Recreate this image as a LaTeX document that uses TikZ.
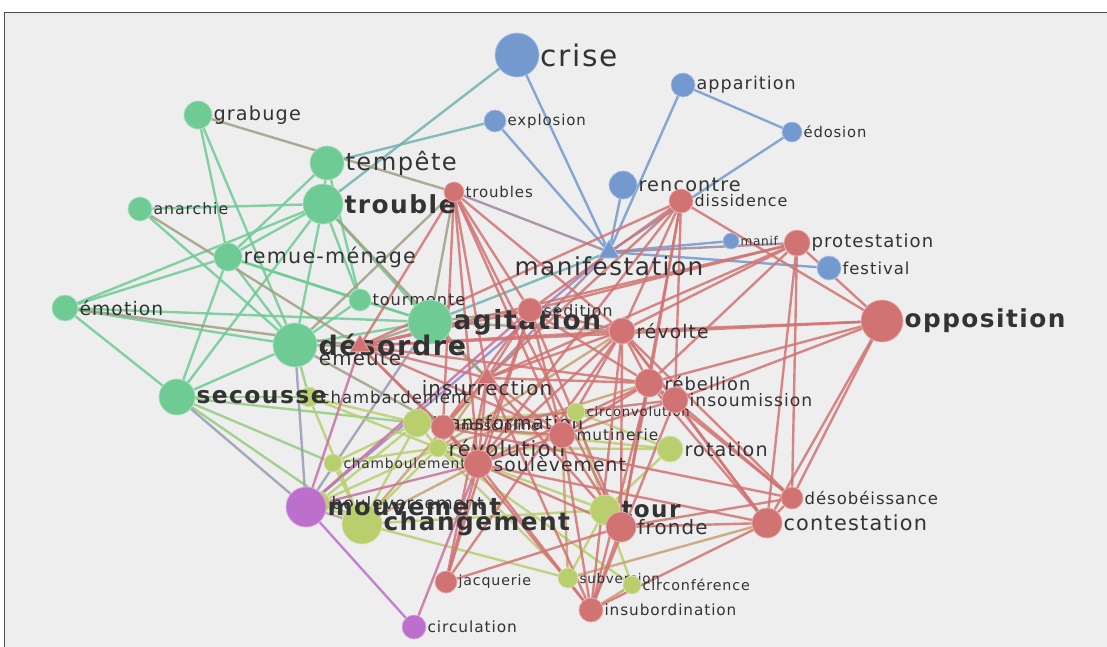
\documentclass[tikz,border=0pt]{standalone}
\usepackage{fontspec}
\usetikzlibrary{shapes.geometric}
\newfontfamily\lbl[LetterSpace=6]{DejaVu Sans}
\definecolor{cb}{HTML}{7399CF}
\definecolor{cr}{HTML}{D27373}
\definecolor{cg}{HTML}{6FCB94}
\definecolor{cy}{HTML}{B9CF6E}
\definecolor{cp}{HTML}{BC70CC}
\definecolor{panel}{HTML}{EEEEEE}
\definecolor{txt}{HTML}{333333}
\pgfdeclarelayer{bg}
\pgfsetlayers{bg,main}
\newcommand\fsz[1]{\pgfmathsetmacro\tmpfs{#1*1.1}\fontsize{\tmpfs}{\tmpfs}\selectfont}
\tikzset{
  nd/.style={circle,inner sep=0pt,fill=#1,draw=#1!60!white,line width=0.7pt},
  tri/.style={regular polygon,regular polygon sides=3,inner sep=0pt,fill=#1,draw=#1!60!white,line width=0.7pt},
  lb/.style={text=txt,inner sep=1pt},
  ed/.style 2 args={draw=#1!50!#2,line width=2.4pt,draw opacity=0.85},
  frame/.style={fill=panel,draw=black!70,line width=1pt}
}
\newcommand\N[7]{\node[nd=#4,minimum size=2*#5,label={[lb,font=\lbl\fsz{#6}]0:#7}] (#1) at (#2,#3) {};}
\newcommand\NB[7]{\node[nd=#4,minimum size=2*#5,label={[lb,font=\lbl\bfseries\fsz{#6}]0:#7}] (#1) at (#2,#3) {};}
\begin{document}
\begin{tikzpicture}[x=1pt,y=-1pt]
\useasboundingbox (0,0) rectangle (1107,646);
\clip (0,0) rectangle (1107,646);
% hidden / background nodes first
\N{boul}{318}{503}{cy}{12}{15.5}{bouleversement}
\N{revl}{438}{448}{cy}{9}{19}{révolution}
\N{chamb}{309}{397}{cy}{10}{15}{chambardement}
\N{trans}{417}{423}{cy}{14}{16.7}{transformation}
\N{circv}{576}{412}{cy}{9}{12}{circonvolution}
\N{rota}{670}{449}{cy}{13}{17.4}{rotation}
\N{chbl}{333}{463}{cy}{9}{12.5}{chamboulement}
\NB{chan}{362}{524}{cy}{20}{22.5}{changement}
\NB{tour}{605}{510}{cy}{15}{21}{tour}
\N{subv}{568}{578}{cy}{10}{12.2}{subversion}
\N{circf}{632}{585}{cy}{9}{13}{circonférence}
% blue
\N{crise}{517}{55}{cb}{22}{27}{crise}
\N{appar}{683}{85}{cb}{12}{16}{apparition}
\N{explo}{495}{121}{cb}{11}{13.6}{explosion}
\N{edos}{792}{132}{cb}{10}{13.4}{édosion}
\N{renc}{623}{185}{cb}{14}{17.5}{rencontre}
\N{manf}{731}{241}{cb}{8}{11}{manif}
\N{fest}{829}{268}{cb}{12}{15}{festival}
\node[tri=cb,minimum size=24,label={[lb,font=\lbl\fsz{22.5},label distance=-3pt]below:manifestation}] (mani) at (609,252) {};
% green
\N{grab}{198}{115}{cg}{14}{17.5}{grabuge}
\N{temp}{327}{163}{cg}{17}{22}{tempête}
\NB{trou}{323}{204}{cg}{20}{22.6}{trouble}
\N{anar}{140}{209}{cg}{12}{14.3}{anarchie}
\N{remu}{228}{257}{cg}{14}{18.8}{remue-ménage}
\N{emot}{65}{308}{cg}{13}{17}{émotion}
\N{tmte}{360}{300}{cg}{11}{14.7}{tourmente}
\NB{agit}{430}{322}{cg}{22}{24}{agitation}
\NB{dord}{295}{345}{cg}{22}{24.5}{désordre}
\NB{secou}{177}{397}{cg}{18}{21.3}{secousse}
% red
\N{trbs}{454}{192}{cr}{10}{13.6}{troubles}
\N{diss}{681}{201}{cr}{12}{14.5}{dissidence}
\N{prot}{797}{243}{cr}{13}{16.4}{protestation}
\NB{oppo}{882}{321}{cr}{21}{22.5}{opposition}
\N{sedi}{530}{310}{cr}{12}{14.3}{sédition}
\N{revo}{622}{331}{cr}{13}{17}{révolte}
\node[tri=cr,minimum size=23,label={[lb,font=\lbl\fsz{18},label distance=-4pt]below:émeute}] (emeu) at (360,346) {};
\node[tri=cr,minimum size=22,label={[lb,font=\lbl\fsz{18},label distance=-5pt]below:insurrection}] (insu) at (487,378) {};
\N{rebe}{649}{383}{cr}{14}{16.2}{rébellion}
\N{inso}{675}{400}{cr}{13}{15.6}{insoumission}
\N{indi}{443}{427}{cr}{12}{12}{indiscipline}
\N{muti}{562}{435}{cr}{13}{14}{mutinerie}
\N{soul}{478}{464}{cr}{14}{17}{soulèvement}
\N{fron}{621}{527}{cr}{15}{18}{fronde}
\N{deso}{792}{498}{cr}{11}{15}{désobéissance}
\N{cont}{767}{523}{cr}{15}{18.9}{contestation}
\N{jacq}{446}{582}{cr}{11}{12.9}{jacquerie}
\N{insb}{591}{610}{cr}{12}{13.9}{insubordination}
% purple
\NB{mouv}{306}{507}{cp}{20}{22}{mouvement}
\N{circ}{414}{627}{cp}{12}{14}{circulation}
\begin{pgfonlayer}{bg}
\fill[white] (0,0) rectangle (1107,646);
\draw[frame] (4.5,12.5) rectangle (1120,660);
% blue
\foreach \a/\b in {crise/mani,explo/mani,appar/mani,appar/edos,edos/mani,renc/mani,manf/mani,fest/mani}
  \draw[ed={cb}{cb}] (\a) -- (\b);
\foreach \a/\b in {crise/trou,explo/temp,mani/agit}
  \draw[ed={cb}{cg}] (\a) -- (\b);
\foreach \a/\b in {mani/trbs,mani/prot,mani/insu}
  \draw[ed={cb}{cr}] (\a) -- (\b);
\draw[ed={cb}{cp}] (mani) -- (mouv);
% green
\foreach \a/\b in {grab/remu,grab/dord,temp/trou,temp/remu,temp/tmte,anar/trou,anar/dord,trou/remu,trou/dord,trou/tmte,trou/agit,trou/emot,trou/secou,remu/dord,remu/agit,remu/tmte,remu/secou,remu/emot,emot/dord,emot/secou,emot/agit,dord/agit,dord/tmte,dord/secou,tmte/agit}
  \draw[ed={cg}{cg}] (\a) -- (\b);
\foreach \a/\b in {grab/trbs,anar/emeu,emot/emeu,trou/insu,dord/indi,dord/trbs,dord/emeu,agit/sedi,agit/emeu,agit/insu,agit/revo,agit/trbs}
  \draw[ed={cg}{cr}] (\a) -- (\b);
\foreach \a/\b in {secou/chamb,secou/chan,secou/chbl,secou/trans,dord/chamb}
  \draw[ed={cg}{cy}] (\a) -- (\b);
\foreach \a/\b in {dord/mouv,secou/mouv,agit/mouv}
  \draw[ed={cg}{cp}] (\a) -- (\b);
% yellow
\foreach \a/\b in {chamb/trans,chamb/chan,chamb/revl,chbl/chan,chbl/trans,chbl/revl,trans/chan,trans/revl,trans/circv,trans/rota,revl/rota,revl/tour,revl/chan,revl/subv,chan/tour,chan/subv,tour/rota,tour/circf,tour/circv,rota/circv,circf/revl,subv/tour,boul/chan,boul/trans,boul/revl}
  \draw[ed={cy}{cy}] (\a) -- (\b);
\foreach \a/\b in {revl/insu,revl/soul,revl/revo,revl/rebe,chan/soul,tour/fron,subv/muti,subv/cont,chan/insu,circf/insb}
  \draw[ed={cy}{cr}] (\a) -- (\b);
\draw[ed={cp}{cy}] (mouv) -- (chan);
% purple
\draw[ed={cp}{cp}] (mouv) -- (circ);
\foreach \a/\b in {mouv/sedi,mouv/emeu,mouv/soul,circ/soul}
  \draw[ed={cp}{cr}] (\a) -- (\b);
% red
\foreach \a/\b in {trbs/emeu,trbs/insu,trbs/sedi,trbs/revo,trbs/soul,trbs/indi,trbs/muti,trbs/fron,
  diss/oppo,diss/revo,diss/sedi,diss/insu,diss/rebe,diss/inso,diss/soul,diss/emeu,diss/fron,
  prot/oppo,prot/cont,prot/deso,prot/revo,prot/rebe,prot/sedi,prot/emeu,prot/insu,
  oppo/revo,oppo/cont,oppo/deso,oppo/rebe,oppo/emeu,oppo/inso,
  sedi/revo,sedi/emeu,sedi/insu,sedi/rebe,sedi/soul,sedi/muti,sedi/indi,sedi/fron,sedi/jacq,
  revo/emeu,revo/insu,revo/rebe,revo/soul,revo/muti,revo/inso,revo/fron,revo/cont,revo/deso,revo/jacq,revo/insb,
  emeu/insu,emeu/soul,emeu/indi,emeu/muti,emeu/rebe,
  insu/rebe,insu/soul,insu/muti,insu/indi,insu/fron,insu/jacq,insu/insb,
  rebe/inso,rebe/muti,rebe/soul,rebe/fron,rebe/deso,rebe/cont,rebe/insb,
  inso/deso,inso/cont,inso/insb,inso/indi,inso/muti,
  indi/muti,indi/soul,indi/insb,indi/deso,
  muti/soul,muti/fron,muti/insb,
  soul/fron,soul/jacq,soul/insb,soul/cont,
  fron/cont,fron/deso,fron/insb,fron/jacq,
  deso/cont,cont/insb}
  \draw[ed={cr}{cr}] (\a) -- (\b);
\end{pgfonlayer}
\end{tikzpicture}
\end{document}
